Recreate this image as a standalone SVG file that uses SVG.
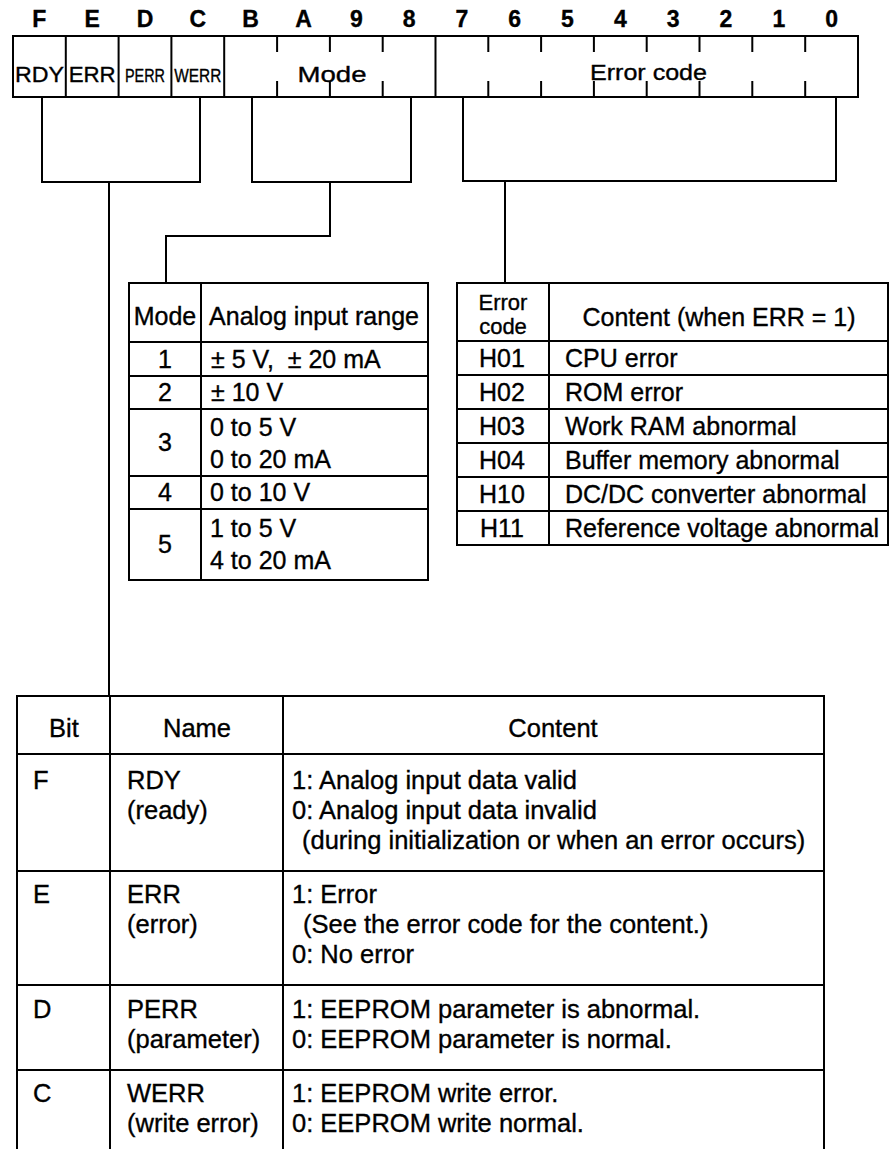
<svg xmlns="http://www.w3.org/2000/svg" width="896" height="1149" viewBox="0 0 896 1149">
<style>
.ln{stroke:#000;stroke-width:2;fill:none}
.t{font-family:"Liberation Sans",Arial,Helvetica,sans-serif;font-size:25px;fill:#000;stroke:#000;stroke-width:0.35}
.s{font-size:22px}
.b{font-weight:bold;font-size:23px}
.m{text-anchor:middle}
.big{font-size:25.5px}
</style>
<rect width="896" height="1149" fill="#fff"/>

<g id="register">
  <g class="t b m">
    <text x="39.4" y="27">F</text><text x="92.2" y="27">E</text><text x="145" y="27">D</text><text x="197.8" y="27">C</text>
    <text x="250.6" y="27">B</text><text x="303.5" y="27">A</text><text x="356.3" y="27">9</text><text x="409.1" y="27">8</text>
    <text x="461.9" y="27">7</text><text x="514.7" y="27">6</text><text x="567.5" y="27">5</text><text x="620.3" y="27">4</text>
    <text x="673.2" y="27">3</text><text x="726" y="27">2</text><text x="778.8" y="27">1</text><text x="831.6" y="27">0</text>
  </g>
  <rect class="ln" x="13" y="36" width="845" height="61"/>
  <path class="ln" d="M65.8,36V97M118.6,36V97M171.4,36V97M224.2,36V97M435.5,36V97"/>
  <path class="ln" d="M277.1,36V52M329.9,36V52M382.7,36V52M277.1,81V97M329.9,81V97M382.7,81V97"/>
  <path class="ln" d="M488.3,36V52M541.1,36V52M593.9,36V52M646.7,36V52M699.5,36V52M752.3,36V52M805.2,36V52M488.3,81V97M541.1,81V97M593.9,81V97M646.7,81V97M699.5,81V97M752.3,81V97M805.2,81V97"/>
  <g class="t s m">
    <text x="39.4" y="82" textLength="49" lengthAdjust="spacingAndGlyphs">RDY</text>
    <text x="92.2" y="82" textLength="47" lengthAdjust="spacingAndGlyphs">ERR</text>
    <text x="145" y="82" font-size="18" textLength="40" lengthAdjust="spacingAndGlyphs">PERR</text>
    <text x="197.8" y="82" font-size="18" textLength="47" lengthAdjust="spacingAndGlyphs">WERR</text>
    <text x="332" y="82" textLength="69" lengthAdjust="spacingAndGlyphs">Mode</text>
    <text x="648.5" y="80" textLength="117" lengthAdjust="spacingAndGlyphs">Error code</text>
  </g>
</g>

<g id="connectors">
  <path class="ln" d="M42,97V182H200V97"/>
  <path class="ln" d="M252,97V182H411V97"/>
  <path class="ln" d="M463,97V181H836V97"/>
  <path class="ln" d="M109,182V696"/>
  <path class="ln" d="M330,182V236H166V283"/>
  <path class="ln" d="M505,181V283"/>
</g>

<g id="mode-table">
  <rect class="ln" x="129" y="283" width="299" height="297"/>
  <path class="ln" d="M201,283V580M129,342H428M129,376H428M129,409H428M129,476H428M129,509H428"/>
  <g class="t">
    <text class="m" x="165" y="325">Mode</text>
    <text class="m" x="314" y="325">Analog input range</text>
    <text class="m" x="165" y="368">1</text>
    <text x="211" y="368" style="white-space:pre">± 5 V,  ± 20 mA</text>
    <text class="m" x="165" y="401">2</text>
    <text x="211" y="401">± 10 V</text>
    <text class="m" x="165" y="451">3</text>
    <text x="210" y="436">0 to 5 V</text>
    <text x="210" y="468">0 to 20 mA</text>
    <text class="m" x="165" y="501">4</text>
    <text x="210" y="501">0 to 10 V</text>
    <text class="m" x="165" y="553">5</text>
    <text x="210" y="537">1 to 5 V</text>
    <text x="210" y="569">4 to 20 mA</text>
  </g>
</g>

<g id="error-table">
  <rect class="ln" x="457" y="283" width="431" height="262"/>
  <path class="ln" d="M549,283V545M457,341H888M457,375H888M457,409H888M457,443H888M457,477H888M457,511H888"/>
  <g class="t">
    <text class="m s" x="503" y="310">Error</text>
    <text class="m s" x="503" y="334">code</text>
    <text class="m" x="719" y="326">Content (when ERR = 1)</text>
    <text class="m" x="502" y="367">H01</text><text x="565" y="367">CPU error</text>
    <text class="m" x="502" y="401">H02</text><text x="565" y="401">ROM error</text>
    <text class="m" x="502" y="435">H03</text><text x="565" y="435">Work RAM abnormal</text>
    <text class="m" x="502" y="469">H04</text><text x="565" y="469">Buffer memory abnormal</text>
    <text class="m" x="502" y="503">H10</text><text x="565" y="503">DC/DC converter abnormal</text>
    <text class="m" x="502" y="537">H11</text><text x="565" y="537">Reference voltage abnormal</text>
  </g>
</g>

<g id="bit-table">
  <path class="ln" d="M17,1149V696H824V1149M110,696V1149M283,696V1149M17,754H824M17,871H824M17,985H824M17,1070H824"/>
  <g class="t big">
    <text class="m" x="64" y="737">Bit</text>
    <text class="m" x="197" y="737">Name</text>
    <text class="m" x="553" y="737">Content</text>

    <text x="33" y="789">F</text>
    <text x="127" y="789">RDY</text>
    <text x="127" y="819">(ready)</text>
    <text x="292" y="789">1: Analog input data valid</text>
    <text x="292" y="819">0: Analog input data invalid</text>
    <text x="302" y="849">(during initialization or when an error occurs)</text>

    <text x="33" y="903">E</text>
    <text x="127" y="903">ERR</text>
    <text x="127" y="933">(error)</text>
    <text x="292" y="903">1: Error</text>
    <text x="303" y="933">(See the error code for the content.)</text>
    <text x="292" y="963">0: No error</text>

    <text x="33" y="1018">D</text>
    <text x="127" y="1018">PERR</text>
    <text x="127" y="1048">(parameter)</text>
    <text x="292" y="1018">1: EEPROM parameter is abnormal.</text>
    <text x="292" y="1048">0: EEPROM parameter is normal.</text>

    <text x="33" y="1102">C</text>
    <text x="127" y="1102">WERR</text>
    <text x="127" y="1132">(write error)</text>
    <text x="292" y="1102">1: EEPROM write error.</text>
    <text x="292" y="1132">0: EEPROM write normal.</text>
  </g>
</g>
</svg>
